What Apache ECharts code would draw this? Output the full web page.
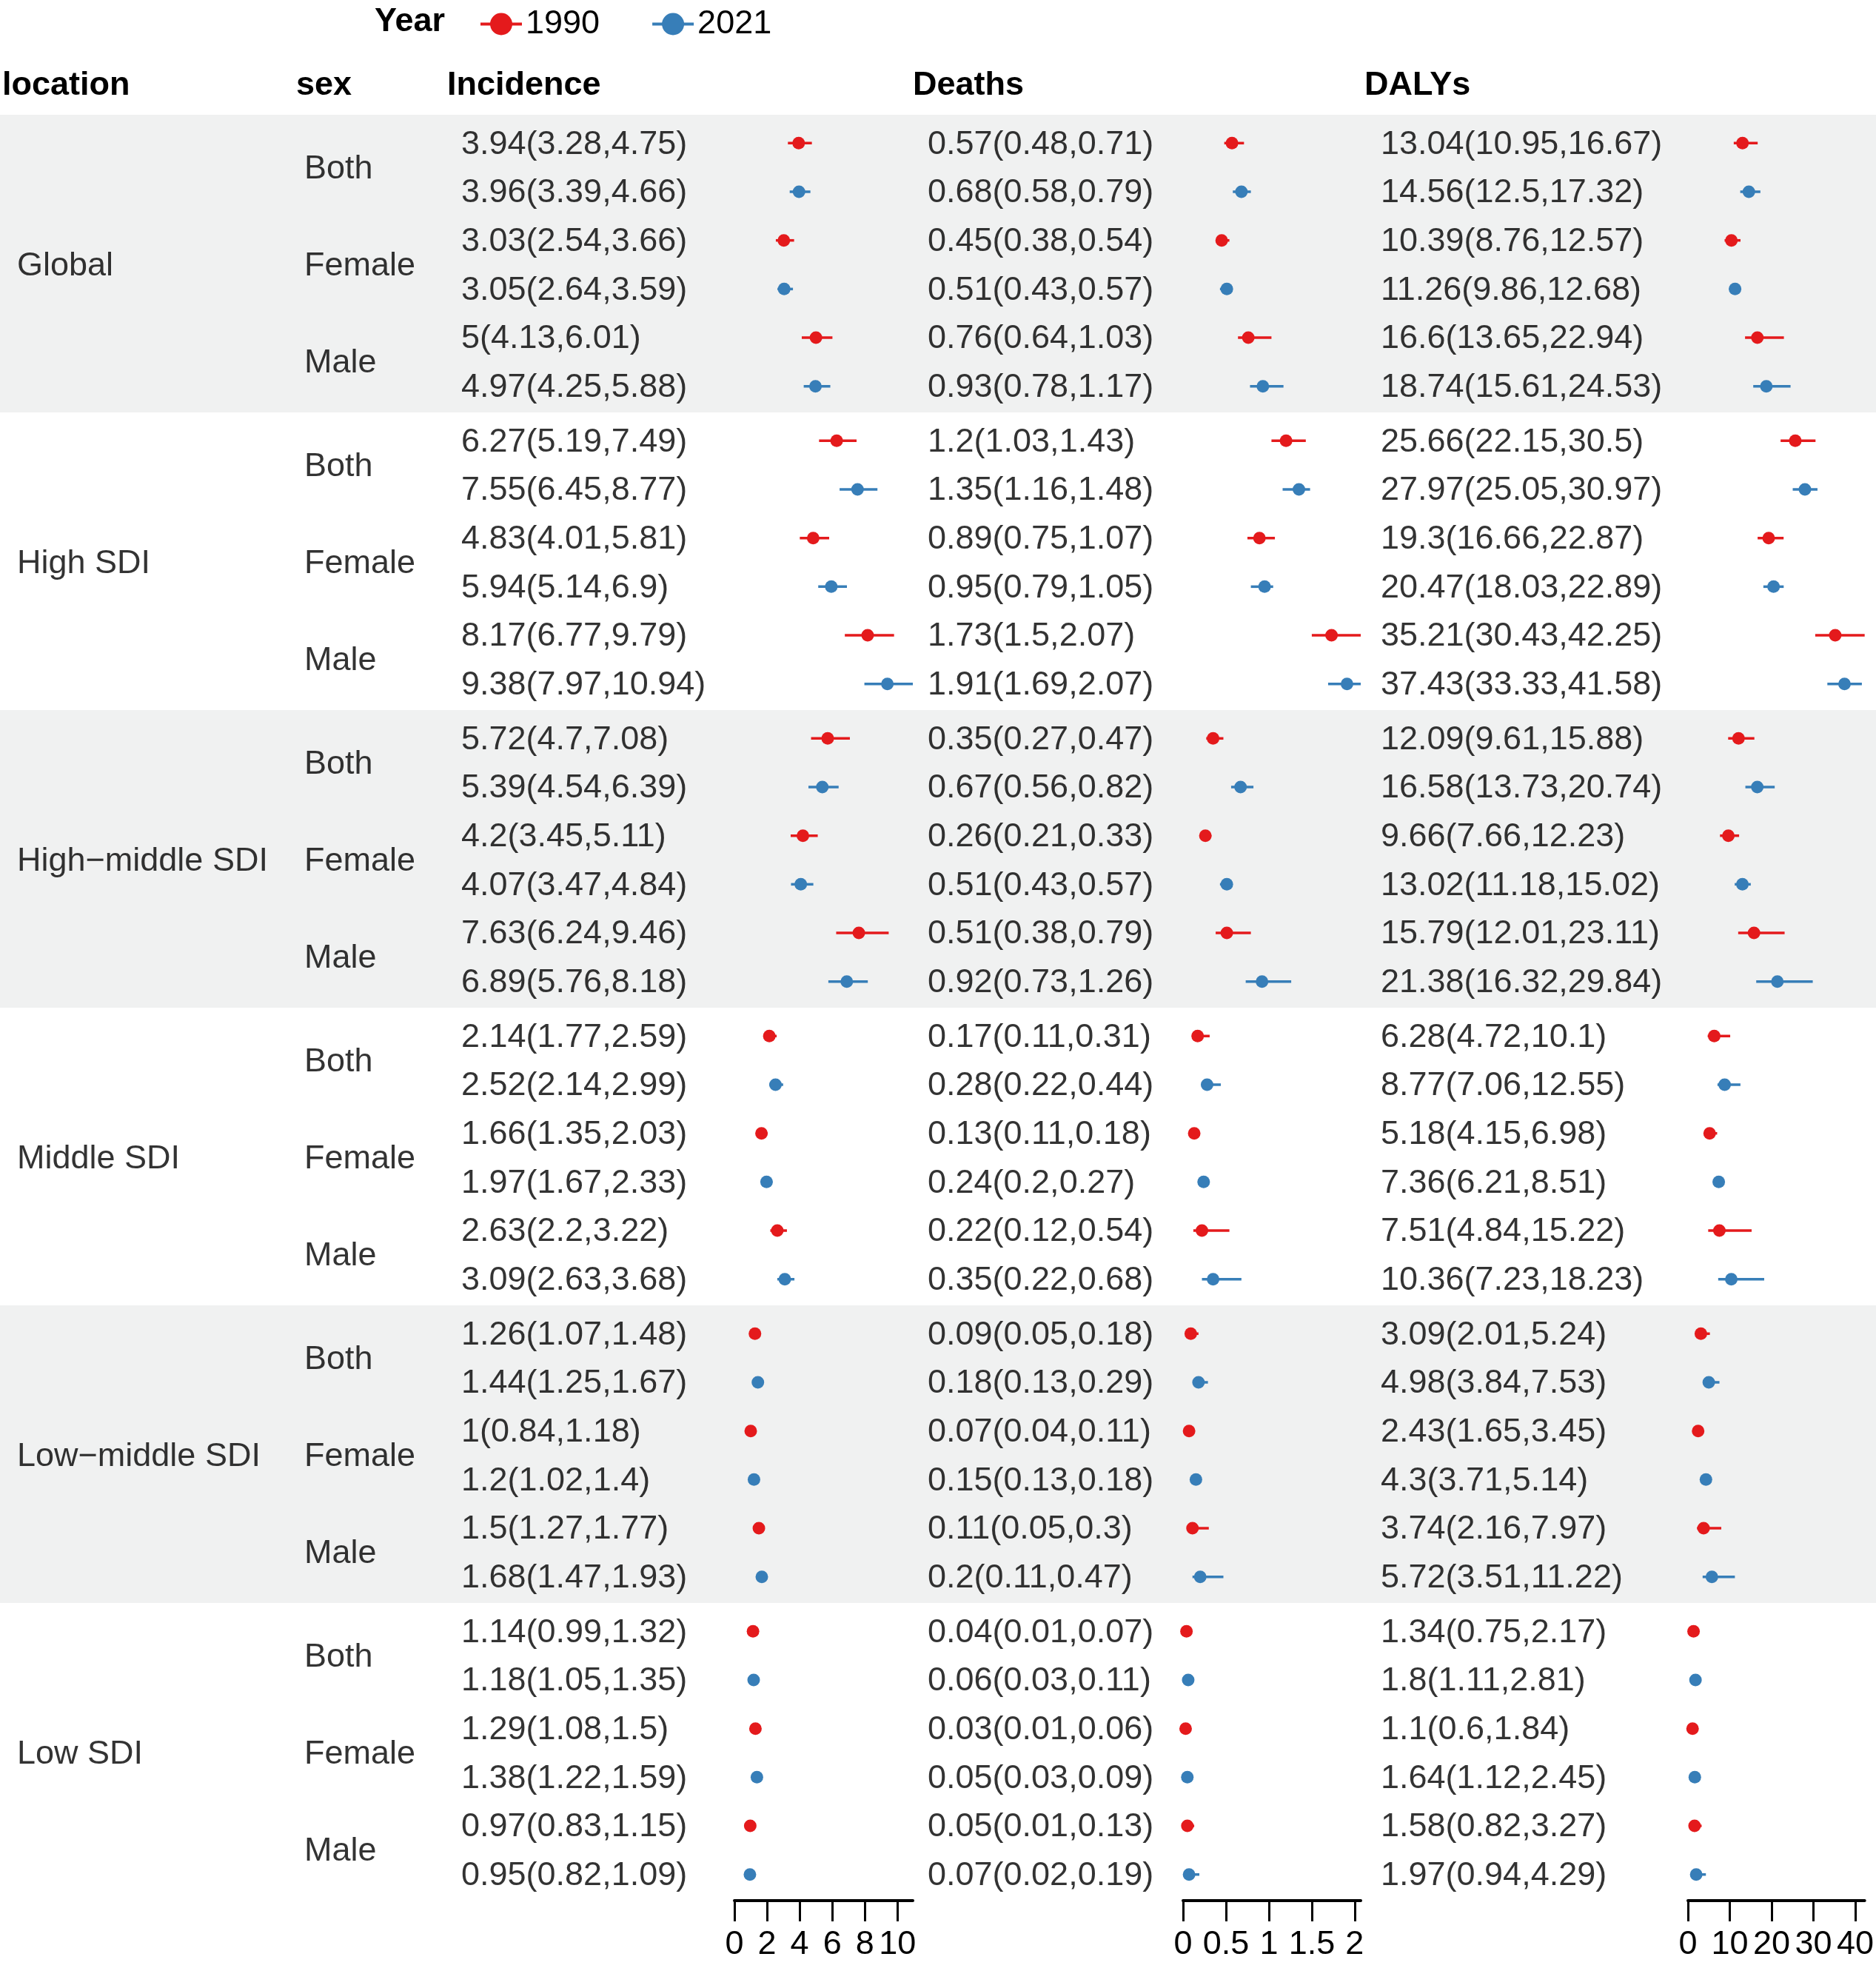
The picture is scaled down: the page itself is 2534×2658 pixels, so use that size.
<!DOCTYPE html>
<html>
<head>
<meta charset="utf-8">
<script src="https://cdn.jsdelivr.net/npm/echarts@6/dist/echarts.min.js"></script>
<style>
  html, body { margin: 0; padding: 0; background: #fff; }
  #chart { width: 2534px; height: 2658px; }
</style>
</head>
<body>
<div id="chart"></div>
<script>
const locations = ['Global', 'High SDI', 'High\u2212middle SDI', 'Middle SDI', 'Low\u2212middle SDI', 'Low SDI']
const sexes = ['Both', 'Female', 'Male']
const years = ['1990', '2021']
const measures = ['Incidence', 'Deaths', 'DALYs']

// [value, lower, upper], order: location -> sex (Both, Female, Male)
const incidence1990 = [
  [3.94, 3.28, 4.75], [3.03, 2.54, 3.66], [5, 4.13, 6.01],
  [6.27, 5.19, 7.49], [4.83, 4.01, 5.81], [8.17, 6.77, 9.79],
  [5.72, 4.7, 7.08], [4.2, 3.45, 5.11], [7.63, 6.24, 9.46],
  [2.14, 1.77, 2.59], [1.66, 1.35, 2.03], [2.63, 2.2, 3.22],
  [1.26, 1.07, 1.48], [1, 0.84, 1.18], [1.5, 1.27, 1.77],
  [1.14, 0.99, 1.32], [1.29, 1.08, 1.5], [0.97, 0.83, 1.15]
]
const incidence2021 = [
  [3.96, 3.39, 4.66], [3.05, 2.64, 3.59], [4.97, 4.25, 5.88],
  [7.55, 6.45, 8.77], [5.94, 5.14, 6.9], [9.38, 7.97, 10.94],
  [5.39, 4.54, 6.39], [4.07, 3.47, 4.84], [6.89, 5.76, 8.18],
  [2.52, 2.14, 2.99], [1.97, 1.67, 2.33], [3.09, 2.63, 3.68],
  [1.44, 1.25, 1.67], [1.2, 1.02, 1.4], [1.68, 1.47, 1.93],
  [1.18, 1.05, 1.35], [1.38, 1.22, 1.59], [0.95, 0.82, 1.09]
]
const deaths1990 = [
  [0.57, 0.48, 0.71], [0.45, 0.38, 0.54], [0.76, 0.64, 1.03],
  [1.2, 1.03, 1.43], [0.89, 0.75, 1.07], [1.73, 1.5, 2.07],
  [0.35, 0.27, 0.47], [0.26, 0.21, 0.33], [0.51, 0.38, 0.79],
  [0.17, 0.11, 0.31], [0.13, 0.11, 0.18], [0.22, 0.12, 0.54],
  [0.09, 0.05, 0.18], [0.07, 0.04, 0.11], [0.11, 0.05, 0.3],
  [0.04, 0.01, 0.07], [0.03, 0.01, 0.06], [0.05, 0.01, 0.13]
]
const deaths2021 = [
  [0.68, 0.58, 0.79], [0.51, 0.43, 0.57], [0.93, 0.78, 1.17],
  [1.35, 1.16, 1.48], [0.95, 0.79, 1.05], [1.91, 1.69, 2.07],
  [0.67, 0.56, 0.82], [0.51, 0.43, 0.57], [0.92, 0.73, 1.26],
  [0.28, 0.22, 0.44], [0.24, 0.2, 0.27], [0.35, 0.22, 0.68],
  [0.18, 0.13, 0.29], [0.15, 0.13, 0.18], [0.2, 0.11, 0.47],
  [0.06, 0.03, 0.11], [0.05, 0.03, 0.09], [0.07, 0.02, 0.19]
]
const dalys1990 = [
  [13.04, 10.95, 16.67], [10.39, 8.76, 12.57], [16.6, 13.65, 22.94],
  [25.66, 22.15, 30.5], [19.3, 16.66, 22.87], [35.21, 30.43, 42.25],
  [12.09, 9.61, 15.88], [9.66, 7.66, 12.23], [15.79, 12.01, 23.11],
  [6.28, 4.72, 10.1], [5.18, 4.15, 6.98], [7.51, 4.84, 15.22],
  [3.09, 2.01, 5.24], [2.43, 1.65, 3.45], [3.74, 2.16, 7.97],
  [1.34, 0.75, 2.17], [1.1, 0.6, 1.84], [1.58, 0.82, 3.27]
]
const dalys2021 = [
  [14.56, 12.5, 17.32], [11.26, 9.86, 12.68], [18.74, 15.61, 24.53],
  [27.97, 25.05, 30.97], [20.47, 18.03, 22.89], [37.43, 33.33, 41.58],
  [16.58, 13.73, 20.74], [13.02, 11.18, 15.02], [21.38, 16.32, 29.84],
  [8.77, 7.06, 12.55], [7.36, 6.21, 8.51], [10.36, 7.23, 18.23],
  [4.98, 3.84, 7.53], [4.3, 3.71, 5.14], [5.72, 3.51, 11.22],
  [1.8, 1.11, 2.81], [1.64, 1.12, 2.45], [1.97, 0.94, 4.29]
]

const incidenceTicks = [0, 2, 4, 6, 8, 10]
const deathsTicks = [0, 0.5, 1, 1.5, 2]
const dalysTicks = [0, 10, 20, 30, 40]

const panelData = [
  [incidence1990, incidence2021],
  [deaths1990, deaths2021],
  [dalys1990, dalys2021]
]
const panelTicks = [incidenceTicks, deathsTicks, dalysTicks]

// layout
const FONT = '"Liberation Sans", Arial, Helvetica, sans-serif'
const FS = 45
const colors = ['#E41A1C', '#377EB8']
const TOP = 155
const BODY_H = 2412
const GROUP = 6.12          // line slots per location block, spacing included
const FIRST = 0.583
const Y_MAX = GROUP * locations.length
const textX = { location: 23, sex: 411, Incidence: 623, Deaths: 1253, DALYs: 1865 }
const headX = { location: 3, sex: 400, Incidence: 604, Deaths: 1233, DALYs: 1843 }
const panelLeft = [992, 1598, 2280]
const panelWidth = [241, 240, 242]

const lineY = (g, s, k) => g * GROUP + FIRST + s * 2 + k

// table text
const textData = []
locations.forEach((loc, g) => {
  textData.push({ name: loc, value: [textX.location, g * GROUP + FIRST + 2.5] })
  sexes.forEach((sx, s) => {
    textData.push({ name: sx, value: [textX.sex, g * GROUP + FIRST + s * 2 + 0.5] })
    measures.forEach((m, p) => {
      years.forEach((yr, k) => {
        const d = panelData[p][k][g * 3 + s]
        textData.push({ name: `${d[0]}(${d[1]},${d[2]})`, value: [textX[m], lineY(g, s, k)] })
      })
    })
  })
})

const bands = []
locations.forEach((loc, g) => {
  if (g % 2 === 0) bands.push([{ yAxis: g * GROUP }, { yAxis: (g + 1) * GROUP }])
})

const grid = [{ left: 0, width: 2534, top: TOP, height: BODY_H }]
const xAxis = [{ gridIndex: 0, type: 'value', min: 0, max: 2534, show: false }]
const yAxis = [{ gridIndex: 0, type: 'value', min: 0, max: Y_MAX, inverse: true, show: false }]

const series = [{
  type: 'scatter',
  xAxisIndex: 0,
  yAxisIndex: 0,
  symbolSize: 0,
  silent: true,
  z: 1,
  data: textData,
  label: {
    show: true,
    position: 'right',
    distance: 0,
    offset: [0, 2],
    formatter: '{b}',
    fontSize: FS,
    fontFamily: FONT,
    color: '#000'
  },
  markArea: {
    silent: true,
    itemStyle: { color: '#f0f1f1' },
    data: bands
  }
}]

panelData.forEach((pair, p) => {
  const gi = p + 1
  const upper = Math.max(...pair[0].map(d => d[2]), ...pair[1].map(d => d[2]))
  grid.push({ left: panelLeft[p], width: panelWidth[p], top: TOP, height: BODY_H })
  xAxis.push({
    gridIndex: gi,
    type: 'value',
    min: 0,
    max: upper,
    position: 'bottom',
    axisLine: { show: true, onZero: false, lineStyle: { color: '#000', width: 4 } },
    axisTick: { show: true, customValues: panelTicks[p], length: 28, lineStyle: { color: '#000', width: 3 } },
    axisLabel: { show: true, customValues: panelTicks[p], margin: 37, fontSize: FS, fontFamily: FONT, color: '#000' },
    splitLine: { show: false }
  })
  yAxis.push({ gridIndex: gi, type: 'value', min: 0, max: Y_MAX, inverse: true, show: false })
})

// point series first so the legend takes its icon from them
panelData.forEach((pair, p) => {
  pair.forEach((rows, k) => {
    series.push({
      name: years[k],
      type: 'line',
      xAxisIndex: p + 1,
      yAxisIndex: p + 1,
      symbol: 'circle',
      symbolSize: 17,
      showSymbol: true,
      silent: true,
      z: 4,
      lineStyle: { width: 0, opacity: 0 },
      itemStyle: { color: colors[k] },
      data: rows.map((d, i) => [d[0], lineY(Math.floor(i / 3), i % 3, k)])
    })
  })
})
panelData.forEach((pair, p) => {
  pair.forEach((rows, k) => {
    series.push({
      name: years[k],
      type: 'custom',
      xAxisIndex: p + 1,
      yAxisIndex: p + 1,
      silent: true,
      z: 3,
      encode: { x: [0, 1], y: 2 },
      data: rows.map((d, i) => [d[1], d[2], lineY(Math.floor(i / 3), i % 3, k)]),
      renderItem: (params, api) => {
        const y = api.value(2)
        const a = api.coord([api.value(0), y])
        const b = api.coord([api.value(1), y])
        return {
          type: 'line',
          shape: { x1: a[0], y1: a[1], x2: b[0], y2: b[1] },
          style: { stroke: colors[k], lineWidth: 3.5 }
        }
      }
    })
  })
})

const headers = [
  ['location', headX.location], ['sex', headX.sex],
  ['Incidence', headX.Incidence], ['Deaths', headX.Deaths], ['DALYs', headX.DALYs]
]
const graphic = headers.map(([t, x]) => ({
  type: 'text',
  x: x,
  y: 116,
  silent: true,
  style: { text: t, font: `bold ${FS}px ${FONT}`, fill: '#000', verticalAlign: 'middle' }
}))
graphic.push({
  type: 'text',
  x: 506,
  y: 30,
  silent: true,
  style: { text: 'Year', font: `bold ${FS}px ${FONT}`, fill: '#000', verticalAlign: 'middle' }
})

const chart = echarts.init(document.getElementById('chart'), null, { renderer: 'canvas' })
chart.setOption({
  animation: false,
  backgroundColor: '#fff',
  legend: {
    data: years,
    left: 647,
    top: 10,
    padding: 0,
    itemWidth: 56,
    itemHeight: 37.5,
    itemGap: 69,
    selectedMode: false,
    lineStyle: { width: 4, opacity: 1 },
    textStyle: { fontSize: FS, fontFamily: FONT, color: '#000' }
  },
  grid: grid,
  xAxis: xAxis,
  yAxis: yAxis,
  graphic: graphic,
  series: series
})
</script>
</body>
</html>
